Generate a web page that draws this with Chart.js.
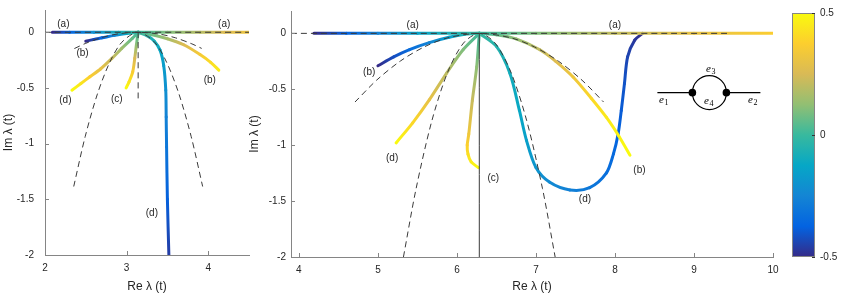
<!DOCTYPE html>
<html><head><meta charset="utf-8">
<script src="https://cdn.jsdelivr.net/npm/chart.js@4.4.1/dist/chart.umd.min.js"></script>
<style>
html,body{margin:0;padding:0;background:#fff;}
body{width:842px;height:300px;position:relative;overflow:hidden;}
.box{position:absolute;top:0;height:300px;}
</style></head><body>
<div class="box" style="left:0;width:262px"><canvas id="cl"></canvas></div>
<div class="box" style="left:246px;width:540px"><canvas id="cr"></canvas></div>
<div class="box" style="left:792px;width:50px"><canvas id="cb"></canvas></div>
<script>
// ---------- tick labels ----------
const leftXTicks = [2, 3, 4];
const rightXTicks = [4, 5, 6, 7, 8, 9, 10];
const yTicks = [0, -0.5, -1, -1.5, -2];
const cbTicks = [-0.5, 0, 0.5];

// ---------- LEFT panel: colored curves (x, y, colour parameter t) ----------
const L_aX = [2.09, 2.3, 2.6, 2.9, 3.1416, 3.5, 3.9, 4.2, 4.5];
const L_aY = [0, 0, 0, 0, 0, 0, 0, 0, 0];
const L_aT = [-0.5, -0.37, -0.21, -0.08, 0, 0.1, 0.19, 0.26, 0.32];

const L_bLX = [3.1416, 3.0, 2.85, 2.7, 2.6, 2.5];
const L_bLY = [0, -0.012, -0.028, -0.05, -0.064, -0.08];
const L_bLT = [0, -0.12, -0.24, -0.36, -0.43, -0.5];

const L_bRX = [3.1416, 3.3, 3.5, 3.7, 3.9, 4.03, 4.13];
const L_bRY = [0, -0.02, -0.058, -0.112, -0.2, -0.27, -0.34];
const L_bRT = [0, 0.07, 0.16, 0.26, 0.35, 0.41, 0.46];

const L_cX = [3.1416, 3.12, 3.10, 3.075, 3.03, 2.994];
const L_cY = [0, -0.114, -0.234, -0.355, -0.445, -0.50];
const L_cT = [0, 0.12, 0.25, 0.36, 0.44, 0.5];

const L_dLX = [3.1416, 3.07, 2.94, 2.82, 2.68, 2.55, 2.44, 2.33];
const L_dLY = [0, -0.055, -0.145, -0.235, -0.33, -0.40, -0.46, -0.52];
const L_dLT = [0, 0.06, 0.15, 0.22, 0.3, 0.37, 0.44, 0.5];

const L_dRX = [3.1416, 3.25, 3.34, 3.41, 3.455, 3.48, 3.485, 3.49, 3.50, 3.518];
const L_dRY = [0, -0.03, -0.08, -0.16, -0.3, -0.52, -0.76, -1.03, -1.5, -2.0];
const L_dRT = [0, -0.04, -0.08, -0.12, -0.16, -0.21, -0.26, -0.3, -0.38, -0.46];

// LEFT panel: dashed approximations
const L_aDashX = [2, 4.5];
const L_aDashY = [0, 0];
const L_bDashX = [2.36, 2.5, 2.7, 2.9, 3.1416, 3.4, 3.6, 3.8, 3.92];
const L_bDashY = [-0.146, -0.099, -0.047, -0.014, 0, -0.016, -0.050, -0.104, -0.145];
const L_dDashX = [2.352, 2.492, 2.642, 2.792, 2.942, 3.1416, 3.342, 3.492, 3.642, 3.792, 3.932];
const L_dDashY = [-1.385, -0.938, -0.555, -0.272, -0.089, 0, -0.089, -0.272, -0.555, -0.938, -1.385];
const L_cDashX = [3.1416, 3.1416];
const L_cDashY = [0, -0.61];

const L_labelText = ['(a)', '(a)', '(b)', '(b)', '(d)', '(c)', '(d)'];
const L_labelX = [2.225, 4.196, 2.46, 4.02, 2.25, 2.88, 3.31];
const L_labelY = [0.075, 0.075, -0.19, -0.43, -0.61, -0.605, -1.625];

// ---------- RIGHT panel ----------
const R_aX = [4.19, 4.6, 5.0, 5.5, 6.2832, 7.0, 8.0, 9.0, 10.0];
const R_aY = [0, 0, 0, 0, 0, 0, 0, 0, 0];
const R_aT = [-0.5, -0.37, -0.26, -0.14, 0, 0.1, 0.21, 0.3, 0.37];

const R_bLX = [6.2832, 6.1, 5.9, 5.65, 5.4, 5.2, 5.0];
const R_bLY = [0, -0.008, -0.035, -0.083, -0.145, -0.21, -0.29];
const R_bLT = [0, -0.07, -0.15, -0.25, -0.34, -0.42, -0.5];

const R_bRX = [6.2832, 6.5, 6.75, 7.05, 7.25, 7.47, 7.7, 7.89, 8.05, 8.19];
const R_bRY = [0, -0.012, -0.05, -0.147, -0.25, -0.39, -0.58, -0.75, -0.92, -1.09];
const R_bRT = [0, 0.06, 0.13, 0.21, 0.27, 0.33, 0.40, 0.45, 0.48, 0.5];

const R_cX = [6.2832, 6.25, 6.195, 6.15, 6.13, 6.14, 6.18, 6.27];
const R_cY = [0, -0.30, -0.60, -0.90, -1.0, -1.08, -1.15, -1.20];
const R_cT = [0, 0.12, 0.22, 0.33, 0.38, 0.42, 0.46, 0.5];

const R_dLX = [6.2832, 6.08, 5.87, 5.65, 5.44, 5.23];
const R_dLY = [0, -0.145, -0.355, -0.595, -0.80, -0.98];
const R_dLT = [0, 0.1, 0.2, 0.3, 0.4, 0.5];

const R_dRX = [6.2832, 6.50, 6.67, 6.79, 6.88, 7.0, 7.17, 7.43, 7.68, 7.89, 7.98, 8.04, 8.08, 8.12, 8.16, 8.25, 8.35];
const R_dRY = [0, -0.117, -0.357, -0.687, -0.957, -1.20, -1.33, -1.40, -1.38, -1.25, -1.08, -0.90, -0.69, -0.45, -0.21, -0.06, 0];
const R_dRT = [0, -0.05, -0.09, -0.12, -0.15, -0.19, -0.23, -0.27, -0.30, -0.33, -0.35, -0.37, -0.39, -0.41, -0.44, -0.47, -0.5];

const R_aDashX = [3.9, 9.4248];
const R_aDashY = [0, 0];
const R_bDashX = [4.710, 4.983, 5.283, 5.583, 5.883, 6.283, 6.683, 6.983, 7.283, 7.583, 7.856];
const R_bDashY = [-0.614, -0.419, -0.248, -0.122, -0.040, 0, -0.040, -0.122, -0.248, -0.419, -0.614];
const R_dDashX = [5.323, 5.483, 5.683, 5.883, 6.083, 6.283, 6.483, 6.683, 6.883, 7.083, 7.243];
const R_dDashY = [-2.0, -1.389, -0.781, -0.347, -0.087, 0, -0.087, -0.347, -0.781, -1.389, -2.0];
const R_cLineX = [6.2832, 6.2832];
const R_cLineY = [0, -2];

const R_labelText = ['(a)', '(a)', '(b)', '(d)', '(c)', '(b)', '(d)'];
const R_labelX = [5.44, 8.0, 4.89, 5.18, 6.46, 8.31, 7.62];
const R_labelY = [0.07, 0.07, -0.35, -1.12, -1.30, -1.22, -1.48];

// ---------- styling ----------
const FONT = '"Liberation Sans", Arial, Helvetica, sans-serif';
const TXT = '#262626';
const AXIS = '#858585';
const DASH = '#3a3a3a';
Chart.defaults.font.family = FONT;
Chart.defaults.color = TXT;

const parula = ['#352a87','#0363e1','#1485d4','#06a7c6','#38b99e','#92bf73','#d9ba56','#fcce2e','#f9fb0e'];
const parulaRGB = parula.map(h => [parseInt(h.slice(1,3),16), parseInt(h.slice(3,5),16), parseInt(h.slice(5,7),16)]);
function cmap(t) {
  const u = Math.min(1, Math.max(0, t + 0.5));
  const n = parulaRGB.length - 1;
  const f = u * n;
  const i = Math.min(n - 1, Math.floor(f));
  const r = f - i;
  const a = parulaRGB[i], b = parulaRGB[i + 1];
  return 'rgb(' + [0,1,2].map(k => Math.round(a[k] + (b[k] - a[k]) * r)).join(',') + ')';
}

function pts(xs, ys) { return xs.map((x, i) => ({x: x, y: ys[i]})); }

function curveDS(xs, ys, ts) {
  return {
    data: pts(xs, ys), showLine: true, pointRadius: 0, pointHoverRadius: 0,
    borderWidth: 3, tension: 0.3, borderCapStyle: 'round', borderJoinStyle: 'round',
    borderColor: cmap(ts[0]),
    segment: {
      borderColor: c => {
        const g = c.chart.ctx.createLinearGradient(c.p0.x, c.p0.y, c.p1.x, c.p1.y);
        g.addColorStop(0, cmap(ts[c.p0DataIndex]));
        g.addColorStop(1, cmap(ts[c.p1DataIndex]));
        return g;
      }
    }
  };
}
function dashDS(xs, ys, solid) {
  return {
    data: pts(xs, ys), showLine: true, pointRadius: 0, pointHoverRadius: 0,
    borderWidth: 1, borderColor: DASH, borderDash: solid ? [] : [6, 4], tension: 0.3
  };
}

const inwardTicks = {
  id: 'inwardTicks',
  afterDraw(chart) {
    const {ctx, chartArea: a, scales} = chart;
    ctx.save();
    ctx.strokeStyle = AXIS; ctx.lineWidth = 1;
    scales.x.ticks.forEach(t => {
      const px = Math.round(scales.x.getPixelForValue(t.value)) + 0.5;
      ctx.beginPath(); ctx.moveTo(px, a.bottom); ctx.lineTo(px, a.bottom - 4); ctx.stroke();
    });
    scales.y.ticks.forEach(t => {
      const py = Math.round(scales.y.getPixelForValue(t.value)) + 0.5;
      ctx.beginPath(); ctx.moveTo(a.left, py); ctx.lineTo(a.left + 4, py); ctx.stroke();
    });
    ctx.restore();
  }
};

const textLabels = {
  id: 'textLabels',
  afterDatasetsDraw(chart, args, opts) {
    const {ctx, scales: {x, y}} = chart;
    ctx.save();
    ctx.font = '10px ' + FONT; ctx.fillStyle = TXT;
    ctx.textAlign = 'center'; ctx.textBaseline = 'middle';
    opts.text.forEach((s, i) => ctx.fillText(s, x.getPixelForValue(opts.x[i]), y.getPixelForValue(opts.y[i])));
    ctx.restore();
  }
};

function eLabel(ctx, x, y, sub) {
  ctx.font = 'italic 11px "Liberation Serif", "DejaVu Serif", serif';
  ctx.textAlign = 'center'; ctx.textBaseline = 'middle';
  ctx.fillText('e', x, y);
  ctx.font = '8px "Liberation Serif", "DejaVu Serif", serif';
  ctx.textAlign = 'left';
  ctx.fillText(sub, x + 3, y + 3);
}
const insetGraph = {
  id: 'insetGraph',
  afterDatasetsDraw(chart) {
    const {ctx, scales: {x, y}} = chart;
    const cx = x.getPixelForValue(9.195), cy = y.getPixelForValue(-0.53);
    ctx.save();
    ctx.strokeStyle = '#000'; ctx.fillStyle = '#000'; ctx.lineWidth = 1.2;
    ctx.beginPath(); ctx.moveTo(cx - 52, cy); ctx.lineTo(cx - 17, cy);
    ctx.moveTo(cx + 17, cy); ctx.lineTo(cx + 51, cy); ctx.stroke();
    ctx.beginPath(); ctx.arc(cx, cy, 17, 0, Math.PI * 2); ctx.stroke();
    [-17, 17].forEach(d => { ctx.beginPath(); ctx.arc(cx + d, cy, 3.8, 0, Math.PI * 2); ctx.fill(); });
    eLabel(ctx, cx - 48, cy + 7, '1');
    eLabel(ctx, cx + 41, cy + 7, '2');
    eLabel(ctx, cx - 1, cy - 24, '3');
    eLabel(ctx, cx - 3, cy + 8, '4');
    ctx.restore();
  }
};

function axes(xmin, xmax, xticks, xHeight, yLabelPad, yTitlePad) {
  return {
    x: {
      type: 'linear', min: xmin, max: xmax,
      afterBuildTicks: s => { s.ticks = xticks.map(v => ({value: v})); },
      afterFit: s => { s.height = xHeight; s.paddingLeft = 0; s.paddingRight = 0; },
      grid: {display: false, drawTicks: false},
      border: {display: true, color: AXIS, width: 1},
      ticks: {padding: 7, font: {size: 10}, color: TXT, autoSkip: false, maxRotation: 0, callback: v => String(v)},
      title: {display: true, text: 'Re λ (t)', font: {size: 12}, color: TXT, padding: {top: 0, bottom: 6}}
    },
    y: {
      type: 'linear', min: -2, max: 0.2,
      afterBuildTicks: s => { s.ticks = yTicks.map(v => ({value: v})); },
      afterFit: s => { s.width = 45; s.paddingTop = 0; s.paddingBottom = 0; },
      grid: {display: false, drawTicks: false},
      border: {display: true, color: AXIS, width: 1},
      ticks: {padding: yLabelPad, font: {size: 10}, color: TXT, autoSkip: false, callback: v => String(v)},
      title: {display: true, text: 'Im λ (t)', font: {size: 12}, color: TXT, padding: {top: yTitlePad, bottom: 0}}
    }
  };
}

new Chart(document.getElementById('cl'), {
  type: 'scatter',
  data: {datasets: [
    dashDS(L_aDashX, L_aDashY), dashDS(L_bDashX, L_bDashY), dashDS(L_dDashX, L_dDashY), dashDS(L_cDashX, L_cDashY),
    curveDS(L_aX, L_aY, L_aT), curveDS(L_bLX, L_bLY, L_bLT), curveDS(L_bRX, L_bRY, L_bRT),
    curveDS(L_cX, L_cY, L_cT), curveDS(L_dLX, L_dLY, L_dLT), curveDS(L_dRX, L_dRY, L_dRT)
  ]},
  options: {
    animation: false, responsive: true, maintainAspectRatio: false,
    layout: {padding: {top: 10, right: 13, bottom: 0, left: 0}},
    scales: axes(2, 4.5, leftXTicks, 45, 11, 1),
    plugins: {legend: {display: false}, tooltip: {enabled: false},
      textLabels: {text: L_labelText, x: L_labelX, y: L_labelY}}
  },
  plugins: [inwardTicks, textLabels]
});

new Chart(document.getElementById('cr'), {
  type: 'scatter',
  data: {datasets: [
    dashDS(R_aDashX, R_aDashY), dashDS(R_bDashX, R_bDashY), dashDS(R_dDashX, R_dDashY), dashDS(R_cLineX, R_cLineY, true),
    curveDS(R_aX, R_aY, R_aT), curveDS(R_bLX, R_bLY, R_bLT), curveDS(R_bRX, R_bRY, R_bRT),
    curveDS(R_cX, R_cY, R_cT), curveDS(R_dLX, R_dLY, R_dLT), curveDS(R_dRX, R_dRY, R_dRT)
  ]},
  options: {
    animation: false, responsive: true, maintainAspectRatio: false,
    layout: {padding: {top: 11, right: 13, bottom: 0, left: 0}},
    scales: axes(3.9, 10, rightXTicks, 43, 5, 1),
    plugins: {legend: {display: false}, tooltip: {enabled: false},
      textLabels: {text: R_labelText, x: R_labelX, y: R_labelY}}
  },
  plugins: [inwardTicks, textLabels, insetGraph]
});

const colorbar = {
  id: 'colorbar',
  beforeDatasetsDraw(chart) {
    const {ctx, chartArea: a, scales: {y}} = chart;
    const g = ctx.createLinearGradient(0, a.bottom, 0, a.top);
    parula.forEach((c, i) => g.addColorStop(i / (parula.length - 1), c));
    ctx.save();
    ctx.fillStyle = g;
    ctx.fillRect(a.left, a.top, a.right - a.left, a.bottom - a.top);
    ctx.strokeStyle = AXIS; ctx.lineWidth = 1;
    ctx.strokeRect(a.left + 0.5, a.top + 0.5, a.right - a.left - 1, a.bottom - a.top - 1);
    ctx.strokeStyle = '#333';
    y.ticks.forEach(t => {
      const py = Math.round(y.getPixelForValue(t.value)) + 0.5;
      ctx.beginPath(); ctx.moveTo(a.right, py); ctx.lineTo(a.right - 3, py); ctx.stroke();
    });
    ctx.restore();
  }
};
new Chart(document.getElementById('cb'), {
  type: 'scatter',
  data: {datasets: []},
  options: {
    animation: false, responsive: true, maintainAspectRatio: false,
    layout: {padding: {top: 13, right: 0, bottom: 43, left: 0}},
    scales: {
      x: {display: false, min: 0, max: 1},
      y: {
        position: 'right', min: -0.5, max: 0.5,
        afterBuildTicks: s => { s.ticks = cbTicks.map(v => ({value: v})); },
        afterFit: s => { s.width = 27; s.paddingTop = 0; s.paddingBottom = 0; },
        grid: {display: false, drawTicks: false}, border: {display: false},
        ticks: {padding: 5, font: {size: 10}, color: TXT, callback: v => String(v)}
      }
    },
    plugins: {legend: {display: false}, tooltip: {enabled: false}}
  },
  plugins: [colorbar]
});
</script>
</body></html>
